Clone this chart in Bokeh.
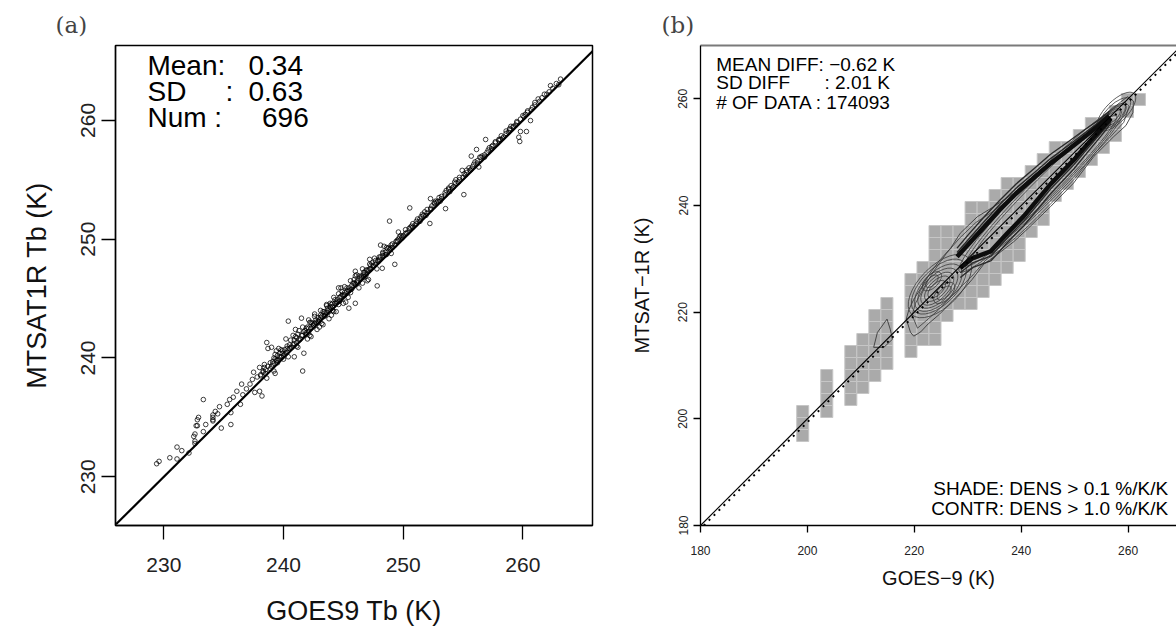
import math
from bokeh.plotting import figure
from bokeh.layouts import row
from bokeh.models import FixedTicker, LinearAxis
from bokeh.core.properties import value
from bokeh.embed import file_html
from bokeh.resources import INLINE

FONT = "Liberation Sans"
SERIF = "DejaVu Serif"

# ---------------- Panel (a) data: GOES9 Tb vs MTSAT1R Tb (K) ----------------
scatter_pts = [
    (229.4, 231.1), (229.6, 231.3), (231.1, 232.5), (231.1, 231.5), (232.1, 232.0), (232.6, 233.0),
    (232.6, 232.8), (232.6, 233.6), (232.7, 234.3), (232.8, 234.3), (232.8, 234.8), (232.9, 235.0),
    (233.3, 236.5), (233.3, 233.8), (234.1, 235.2), (234.1, 235.0), (234.1, 234.8), (234.1, 234.7),
    (234.3, 235.5), (234.65, 235.9), (234.8, 234.1), (235.3, 236.1), (235.6, 234.4), (235.6, 235.4),
    (235.8, 236.7), (236.1, 237.2), (236.4, 236.1), (236.6, 236.9), (236.9, 237.4), (237.2, 237.8),
    (237.4, 238.2), (237.6, 237.1), (237.8, 238.4), (238.0, 237.2), (238.2, 236.8), (238.1, 238.6),
    (238.3, 238.9), (238.4, 239.2), (238.4, 239.45), (238.5, 239.0), (238.6, 238.3), (238.7, 240.8),
    (238.6, 241.3), (238.9, 239.6), (239.0, 239.3), (239.2, 240.0), (239.3, 238.7), (239.4, 239.8),
    (239.5, 240.2), (239.6, 239.9), (239.7, 240.4), (239.8, 240.1), (239.9, 240.6), (240.0, 240.2),
    (240.1, 240.7), (240.2, 240.4), (240.3, 241.0), (240.4, 243.1), (240.5, 240.8), (240.6, 241.5),
    (240.8, 241.1), (240.9, 240.1), (241.0, 241.8), (241.1, 241.3), (241.2, 242.0), (241.4, 241.6),
    (241.5, 243.35), (241.6, 238.9), (241.7, 240.4), (241.8, 242.3), (241.9, 242.0), (242.0, 242.6),
    (242.1, 242.2), (242.2, 243.0), (242.3, 241.8), (242.4, 242.9), (242.5, 242.7), (242.6, 243.5),
    (242.7, 243.0), (242.8, 242.4), (242.9, 243.4), (243.0, 243.2), (243.1, 244.0), (243.2, 243.5),
    (243.3, 242.8), (243.4, 243.9), (243.5, 243.6), (243.6, 244.4), (243.7, 244.0), (243.8, 243.3),
    (243.9, 244.3), (244.0, 244.5), (244.1, 244.0), (244.2, 245.1), (244.3, 244.6), (244.4, 243.9),
    (244.5, 244.9), (244.6, 245.4), (244.7, 244.8), (244.8, 245.2), (245.0, 245.3), (245.1, 246.0),
    (245.2, 244.7), (245.3, 245.6), (245.46, 244.19), (245.5, 245.9), (245.6, 246.5), (245.7, 245.8),
    (245.8, 246.3), (246.0, 244.6), (246.0, 246.2), (246.1, 247.0), (246.2, 246.5), (246.3, 245.9),
    (246.5, 246.9), (246.6, 247.5), (246.7, 246.8), (246.8, 247.2), (247.0, 247.4), (247.1, 246.6),
    (247.2, 247.9), (247.3, 247.5), (247.5, 247.8), (247.6, 248.4), (247.83, 246.07), (247.9, 248.2),
    (248.0, 248.5), (248.11, 249.5), (248.25, 247.55), (248.3, 248.6), (248.5, 248.9), (248.6, 249.3),
    (248.86, 251.52), (248.9, 249.2), (249.0, 249.5), (249.3, 247.88), (249.4, 249.8), (249.6, 250.0),
    (249.8, 250.3), (250.0, 250.3), (250.2, 250.8), (250.4, 250.6), (250.55, 252.63), (250.6, 251.0),
    (250.8, 251.3), (251.0, 251.2), (251.2, 251.7), (251.4, 251.5), (251.6, 252.1), (251.8, 252.3),
    (252.0, 252.2), (252.23, 251.32), (252.28, 253.41), (252.4, 252.8), (252.6, 253.0), (252.8, 253.1),
    (253.0, 253.5), (253.2, 253.4), (253.54, 252.57), (253.6, 254.1), (253.8, 254.2), (254.0, 254.5),
    (254.2, 254.4), (254.4, 255.0), (254.6, 254.8), (254.93, 255.79), (255.07, 253.75), (255.1, 255.5),
    (255.3, 255.6), (255.5, 256.0), (255.69, 256.99), (255.8, 256.1), (256.0, 256.5), (256.13, 257.55),
    (256.32, 256.07), (256.4, 256.9), (256.6, 257.0), (256.89, 258.39), (257.0, 257.3), (257.2, 257.7),
    (257.5, 257.9), (257.7, 258.2), (258.0, 258.3), (258.2, 258.7), (258.4, 258.6), (258.6, 259.1),
    (258.8, 259.0), (259.0, 259.5), (259.2, 259.42), (259.4, 259.6), (259.66, 258.58), (259.74, 258.22),
    (259.8, 259.06), (260.0, 260.4), (260.3, 259.06), (260.37, 260.68), (260.64, 259.98), (260.8, 261.1),
    (261.0, 261.3), (261.28, 261.8), (261.6, 261.9), (262.0, 262.2), (262.31, 262.92), (262.5, 262.7),
    (262.8, 263.1), (263.15, 263.47), (263.0, 263.0),
    (239.1, 239.7), (239.3, 240.3), (239.5, 239.6), (239.8, 240.7), (240.0, 239.9), (240.3, 240.5),
    (240.6, 240.9), (240.9, 241.5), (241.1, 241.0), (241.3, 242.3), (241.6, 241.9), (241.9, 242.5),
    (242.1, 243.2), (242.3, 242.5), (242.6, 242.9), (242.9, 243.0), (243.1, 243.6), (243.4, 243.5),
    (243.6, 243.8), (243.9, 244.6), (244.1, 244.3), (244.4, 244.7), (244.6, 244.5), (244.9, 245.6),
    (245.1, 245.3), (245.4, 245.7), (245.6, 245.5), (245.9, 246.6), (246.2, 246.3), (246.4, 246.7),
    (246.7, 247.2), (246.9, 247.0), (247.2, 247.5), (247.4, 248.0), (247.7, 247.9), (248.0, 248.3),
    (248.3, 248.9), (248.6, 248.7), (248.8, 249.3), (249.1, 249.3), (249.5, 249.9), (249.9, 250.1),
    (250.3, 250.5), (250.7, 251.1), (251.1, 251.3), (251.5, 251.9), (251.9, 252.0), (252.3, 252.6),
    (252.7, 253.2), (253.1, 253.2), (253.5, 253.9), (253.9, 254.0), (254.3, 254.8), (254.7, 255.0),
    (255.2, 255.4), (255.7, 255.9), (256.2, 256.6), (256.8, 256.9), (257.4, 257.8), (258.1, 258.4),
    (258.9, 259.2), (259.5, 259.8), (260.2, 260.5), (239.0, 240.9), (239.4, 240.6), (240.2, 241.6),
    (241.0, 242.4), (242.0, 241.6), (243.0, 242.6), (244.0, 243.6), (245.0, 244.6), (244.6, 245.9),
    (246.0, 247.3), (247.0, 246.5), (238.0, 239.2), (237.5, 238.8), (236.5, 237.8), (235.5, 236.5),
    (234.5, 235.3), (233.5, 234.4), (232.5, 233.4), (231.5, 232.2), (230.5, 231.6),
    (238.1, 238.5), (238.3, 238.8), (238.5, 238.7), (238.7, 239.3), (238.9, 239.1), (239.1, 239.5),
    (239.3, 239.9), (239.5, 239.8), (239.7, 240.1), (239.9, 240.4), (240.1, 240.3), (240.3, 240.8),
    (240.5, 241.1), (240.7, 240.9), (240.9, 241.2), (241.1, 241.7), (241.3, 241.5), (241.5, 241.9),
    (241.7, 242.2), (241.9, 242.1), (242.1, 242.5), (242.3, 243.0), (242.5, 242.8), (242.7, 243.2),
    (242.9, 243.1), (243.1, 243.4), (243.3, 243.9), (243.5, 243.8), (243.7, 244.2), (243.9, 244.1),
    (244.1, 244.6), (244.3, 244.9), (244.5, 244.7), (244.7, 245.1), (244.9, 245.3), (245.1, 245.5),
    (245.3, 245.9), (245.5, 245.7), (245.7, 246.1), (245.9, 246.3), (246.1, 246.4), (246.3, 246.9),
    (246.5, 246.8), (246.7, 247.0), (246.9, 247.4), (247.1, 247.4), (247.3, 247.8), (247.5, 247.7),
    (247.7, 248.2), (247.9, 248.1), (248.1, 248.5), (248.3, 248.8), (248.5, 248.7), (248.7, 249.2),
    (248.9, 249.1), (249.1, 249.6), (249.3, 249.5), (249.5, 249.8), (249.7, 250.2), (249.9, 250.2),
    (250.2, 250.5), (250.5, 250.9), (250.8, 251.0), (251.1, 251.5), (251.4, 251.7), (251.7, 252.0),
    (252.0, 252.5), (252.3, 252.5), (252.6, 253.1), (252.9, 253.2), (253.2, 253.6), (253.5, 253.7),
    (253.8, 254.3), (254.1, 254.3), (254.4, 254.7), (254.7, 255.2), (255.0, 255.2), (255.3, 255.8),
    (255.6, 255.8), (255.9, 256.3), (256.2, 256.4), (256.5, 256.9), (256.8, 257.1), (257.1, 257.5),
    (257.4, 257.6), (257.7, 258.1), (258.0, 258.4), (258.3, 258.5), (258.6, 258.9), (258.9, 259.3),
    (259.2, 259.5), (259.5, 259.9), (259.8, 260.1), (260.1, 260.3), (260.4, 260.8), (260.7, 260.9),
    (261.0, 261.5), (261.4, 261.6), (261.8, 262.2), (262.2, 262.4),
    (239.2, 238.9), (239.6, 240.8), (240.4, 240.1), (240.8, 241.9), (241.2, 240.9), (241.6, 242.6),
    (242.2, 241.9), (242.6, 243.7), (243.2, 242.9), (243.6, 244.5), (244.2, 243.9), (244.8, 245.9),
    (245.4, 245.1), (246.0, 246.9), (246.6, 246.3), (247.2, 248.3), (247.8, 247.5), (248.4, 249.4),
    (249.0, 248.8), (249.6, 250.6),
]
goes9_tb = [p[0] for p in scatter_pts]
mtsat1r_tb = [p[1] for p in scatter_pts]
ticks_a = [230, 240, 250, 260]
one_to_one_a = [226.0, 266.0]

# ---------------- Panel (b) data ----------------
ticks_b = [180, 200, 220, 240, 260]
mean_diff = -0.62
bin_origin = 180.0
bin_width = 2.25
# shaded density bins (> 0.1 %/K/K): column index and row index range
shade_col = [8, 10, 12, 13, 14, 15, 17, 18, 19, 20, 21, 22, 23, 24, 25, 26, 27, 28, 29, 30, 31, 32, 33, 34, 35, 36]
shade_lo = [7, 9, 10, 11, 12, 13, 14, 15, 15, 17, 18, 18, 19, 20, 21, 22, 24, 25, 27, 28, 29, 30, 31, 32, 34, 35]
shade_hi = [9, 12, 14, 15, 17, 18, 20, 21, 24, 24, 24, 26, 26, 27, 28, 28, 29, 30, 31, 31, 32, 33, 33, 34, 35, 35]

# density contours (> 1.0 %/K/K)
env_x = [219.9, 221.2, 222.6, 224.7, 228.6, 230.8, 233.0, 235.5, 238.6, 241.4, 245.5, 249.8, 253.6,
         257.3, 259.6, 260.9, 261.0, 259.9, 258.6, 256.1, 252.3, 248.6, 243.6, 238.6, 234.9, 231.8,
         228.6, 226.8, 224.9, 223.0, 221.5, 219.9, 219.0, 218.5, 219.3, 219.9]
env_y = [215.5, 216.3, 217.8, 219.6, 223.6, 226.1, 229.0, 230.8, 233.2, 235.8, 239.8, 244.2, 249.2,
         252.9, 255.0, 257.4, 259.6, 260.4, 259.4, 257.3, 253.5, 250.4, 246.7, 242.3, 239.8, 237.9,
         234.8, 232.0, 229.9, 227.4, 224.9, 222.4, 220.5, 218.7, 216.2, 215.5]
env2_x = [220.6, 222.0, 224.5, 228.4, 231.0, 233.4, 236.0, 239.0, 242.0, 246.0, 250.0, 253.8, 257.0,
          259.2, 260.2, 259.4, 257.8, 255.4, 251.8, 248.0, 243.0, 238.4, 234.6, 231.5, 228.4, 226.0,
          223.6, 221.8, 220.2, 219.6, 220.6]
env2_y = [217.0, 218.2, 220.4, 224.4, 227.0, 229.8, 231.6, 234.0, 236.8, 240.8, 245.0, 249.8, 253.2,
          255.6, 258.6, 259.4, 258.6, 256.4, 252.8, 249.6, 245.8, 241.6, 238.8, 236.8, 233.8, 231.0,
          227.6, 224.6, 221.6, 219.4, 217.0]
loop_x = [212.4, 213.1, 214.9, 215.5, 215.9, 214.3, 212.4]
loop_y = [213.4, 216.2, 218.7, 216.8, 214.9, 213.4, 213.4]
ridge_up_x = [228.0, 230.0, 233.0, 236.0, 239.0, 242.5, 245.5, 249.0, 252.0, 254.5, 256.5]
ridge_up_y = [230.4, 232.6, 235.9, 239.2, 242.2, 245.3, 247.9, 250.6, 253.0, 255.0, 256.8]
ridge_up_o1 = [231.2, 233.5, 236.9, 240.2, 243.2, 246.2, 248.8, 251.4, 253.7, 255.6, 257.3]
ridge_up_o2 = [232.0, 234.4, 237.8, 241.0, 244.0, 247.0, 249.6, 252.1, 254.3, 256.0, 257.7]
ridge_lo_x = [228.6, 231.0, 234.3, 237.4, 240.5, 243.0, 245.5, 249.8, 252.6, 255.0, 256.8]
ridge_lo_y = [228.3, 230.2, 231.4, 234.8, 238.0, 241.0, 244.0, 248.5, 251.7, 254.4, 256.3]
ridge_lo_o1 = [227.4, 229.3, 230.5, 233.9, 237.1, 240.1, 243.1, 247.6, 250.9, 253.7, 255.8]
ridge_lo_o2 = [226.5, 228.4, 229.6, 233.0, 236.2, 239.2, 242.2, 246.8, 250.2, 253.1, 255.4]
ring_cx = [224.8, 224.6, 224.5, 224.4, 224.3, 224.3, 224.2, 223.3, 223.3, 225.6, 225.6,
           244.0, 244.2, 244.4, 257.8, 257.6, 257.4, 257.2]
ring_cy = [224.9, 224.8, 224.6, 224.5, 224.4, 224.4, 224.3, 225.8, 225.8, 223.6, 223.6,
           243.2, 243.3, 243.4, 257.6, 257.3, 257.0, 256.8]
ring_len = [15.0, 13.0, 11.2, 9.5, 7.8, 6.0, 4.2, 4.5, 3.0, 5.0, 3.4,
            44.0, 41.0, 38.0, 9.5, 7.5, 5.5, 3.5]
ring_wid = [7.6, 6.6, 5.7, 4.8, 3.9, 3.0, 2.1, 2.4, 1.5, 2.6, 1.6,
            5.4, 4.6, 3.9, 4.0, 3.2, 2.4, 1.6]


def style_axis(ax, ticks, label_size, tick_out, standoff, title_size, title_standoff, vertical=False):
    ax.ticker = FixedTicker(ticks=ticks)
    ax.minor_tick_line_color = None
    ax.major_tick_in = 0
    ax.major_tick_out = tick_out
    ax.major_tick_line_color = "black"
    ax.major_tick_line_width = 1.3
    ax.axis_line_color = "black"
    ax.axis_line_width = 1.3
    ax.major_label_text_font = FONT
    ax.major_label_text_font_size = label_size
    ax.major_label_text_color = "#222222"
    ax.major_label_standoff = standoff
    ax.axis_label_text_font = FONT
    ax.axis_label_text_font_size = title_size
    ax.axis_label_text_font_style = "normal"
    ax.axis_label_text_color = "#111111"
    ax.axis_label_standoff = title_standoff
    if vertical:
        ax.major_label_orientation = "vertical"


# ---------------- Panel (a) ----------------
p1 = figure(width=600, height=629, x_range=(225.96, 265.82), y_range=(225.9, 266.3),
            output_backend="svg", toolbar_location=None,
            min_border_left=115, min_border_right=8, min_border_top=43, min_border_bottom=104)
p1.grid.visible = False
p1.outline_line_color = "black"
p1.outline_line_width = 1.5
p1.title.text = "(a)"
p1.title.text_font = SERIF
p1.title.text_font_size = "23px"
p1.title.text_font_style = "normal"
p1.title.align = "left"
p1.title.offset = -60
p1.title.standoff = 16

p1.xaxis.axis_label = "GOES9 Tb (K)"
p1.yaxis.axis_label = "MTSAT1R Tb (K)"
style_axis(p1.xaxis[0], ticks_a, "21px", 14, 18, "27px", 21)
style_axis(p1.yaxis[0], ticks_a, "21px", 14, 6, "27px", 27, vertical=True)

p1.line(one_to_one_a, one_to_one_a, line_color="black", line_width=2.2)
p1.scatter(goes9_tb, mtsat1r_tb, size=4.6, marker="circle", fill_color=None,
           line_color="black", line_width=0.75)

ann_y = [264.6, 262.45, 260.25]
p1.text(x=[228.63, 228.63, 228.63], y=ann_y, text=["Mean:", "SD", "Num :"],
        text_font=value(FONT), text_font_size="28px", text_baseline="alphabetic",
        text_align="left", text_color="black")
p1.text(x=[235.15], y=[ann_y[1]], text=[":"], text_font=value(FONT), text_font_size="28px",
        text_baseline="alphabetic", text_align="left", text_color="black")
p1.text(x=[237.07, 237.07], y=ann_y[:2], text=["0.34", "0.63"], text_font=value(FONT),
        text_font_size="28px", text_baseline="alphabetic", text_align="left", text_color="black")
p1.text(x=[242.11], y=[ann_y[2]], text=["696"], text_font=value(FONT), text_font_size="28px",
        text_baseline="alphabetic", text_align="right", text_color="black")

# ---------------- Panel (b) ----------------
p2 = figure(width=576, height=629, x_range=(180.0, 269.06), y_range=(180.0, 270.0),
            output_backend="svg", toolbar_location=None,
            min_border_left=100, min_border_right=0, min_border_top=45, min_border_bottom=102)
p2.grid.visible = False
p2.outline_line_color = None
p2.title.text = "(b)"
p2.title.text_font = SERIF
p2.title.text_font_size = "23px"
p2.title.text_font_style = "normal"
p2.title.align = "left"
p2.title.offset = -39
p2.title.standoff = 16

p2.xaxis.axis_label = "GOES−9 (K)"
p2.yaxis.axis_label = "MTSAT−1R (K)"
style_axis(p2.xaxis[0], ticks_b, "12px", 7, 13, "20px", 9)
style_axis(p2.yaxis[0], ticks_b, "12px", 7, 6, "20px", 23, vertical=True)

top_ax = LinearAxis(ticker=FixedTicker(ticks=[]), axis_line_color="#7a7a7a", axis_line_width=2,
                    major_tick_line_color=None, minor_tick_line_color=None,
                    major_label_standoff=0, major_tick_out=0, major_tick_in=0)
p2.add_layout(top_ax, "above")

cell_l, cell_r, cell_b, cell_t = [], [], [], []
for c, lo, hi in zip(shade_col, shade_lo, shade_hi):
    for r in range(lo, hi + 1):
        cell_l.append(bin_origin + c * bin_width)
        cell_r.append(bin_origin + (c + 1) * bin_width)
        cell_b.append(bin_origin + r * bin_width)
        cell_t.append(bin_origin + (r + 1) * bin_width)
p2.quad(left=cell_l, right=cell_r, bottom=cell_b, top=cell_t, fill_color="#aaaaaa",
        line_color="#c6c6c6", line_width=1)

contour_color = "#3a3a3a"
p2.ellipse(x=ring_cx, y=ring_cy, width=ring_len, height=ring_wid, angle=math.pi / 4,
           fill_color=None, line_color=contour_color, line_width=0.8)
p2.line(env_x, env_y, line_color=contour_color, line_width=0.9)
p2.line(env2_x, env2_y, line_color=contour_color, line_width=0.8)
p2.line(loop_x, loop_y, line_color=contour_color, line_width=0.9)
for ys in (ridge_up_o1, ridge_up_o2):
    p2.line(ridge_up_x, ys, line_color="#2a2a2a", line_width=1.4, line_join="round")
for ys in (ridge_lo_o1, ridge_lo_o2):
    p2.line(ridge_lo_x, ys, line_color="#2a2a2a", line_width=1.4, line_join="round")
p2.line(ridge_up_x, ridge_up_y, line_color="#0d0d0d", line_width=4.5, line_join="round")
p2.line(ridge_lo_x, ridge_lo_y, line_color="#0d0d0d", line_width=4.5, line_join="round")

p2.line([180.0, 270.0], [180.0, 270.0], line_color="black", line_width=1.1)
p2.line([180.0 - mean_diff, 270.0 - mean_diff], [180.0, 270.0], line_color="black",
        line_width=2, line_dash="2 5")

bx = 182.94
by = [266.5, 263.0, 259.4]
p2.text(x=[bx, bx, bx], y=by, text=["MEAN DIFF: −0.62 K", "SD DIFF", "# OF DATA : 174093"],
        text_font=value(FONT), text_font_size="19px", text_baseline="alphabetic",
        text_align="left", text_color="black")
p2.text(x=[203.2], y=[by[1]], text=[":  2.01 K"], text_font=value(FONT), text_font_size="19px",
        text_baseline="alphabetic", text_align="left", text_color="black")
p2.text(x=[267.5, 267.5], y=[186.9, 183.2],
        text=["SHADE: DENS > 0.1 %/K/K", "CONTR: DENS > 1.0 %/K/K"],
        text_font=value(FONT), text_font_size="19px", text_baseline="middle",
        text_align="right", text_color="black")

layout = row(p1, p2)
open("out.html", "w").write(file_html(layout, INLINE))
